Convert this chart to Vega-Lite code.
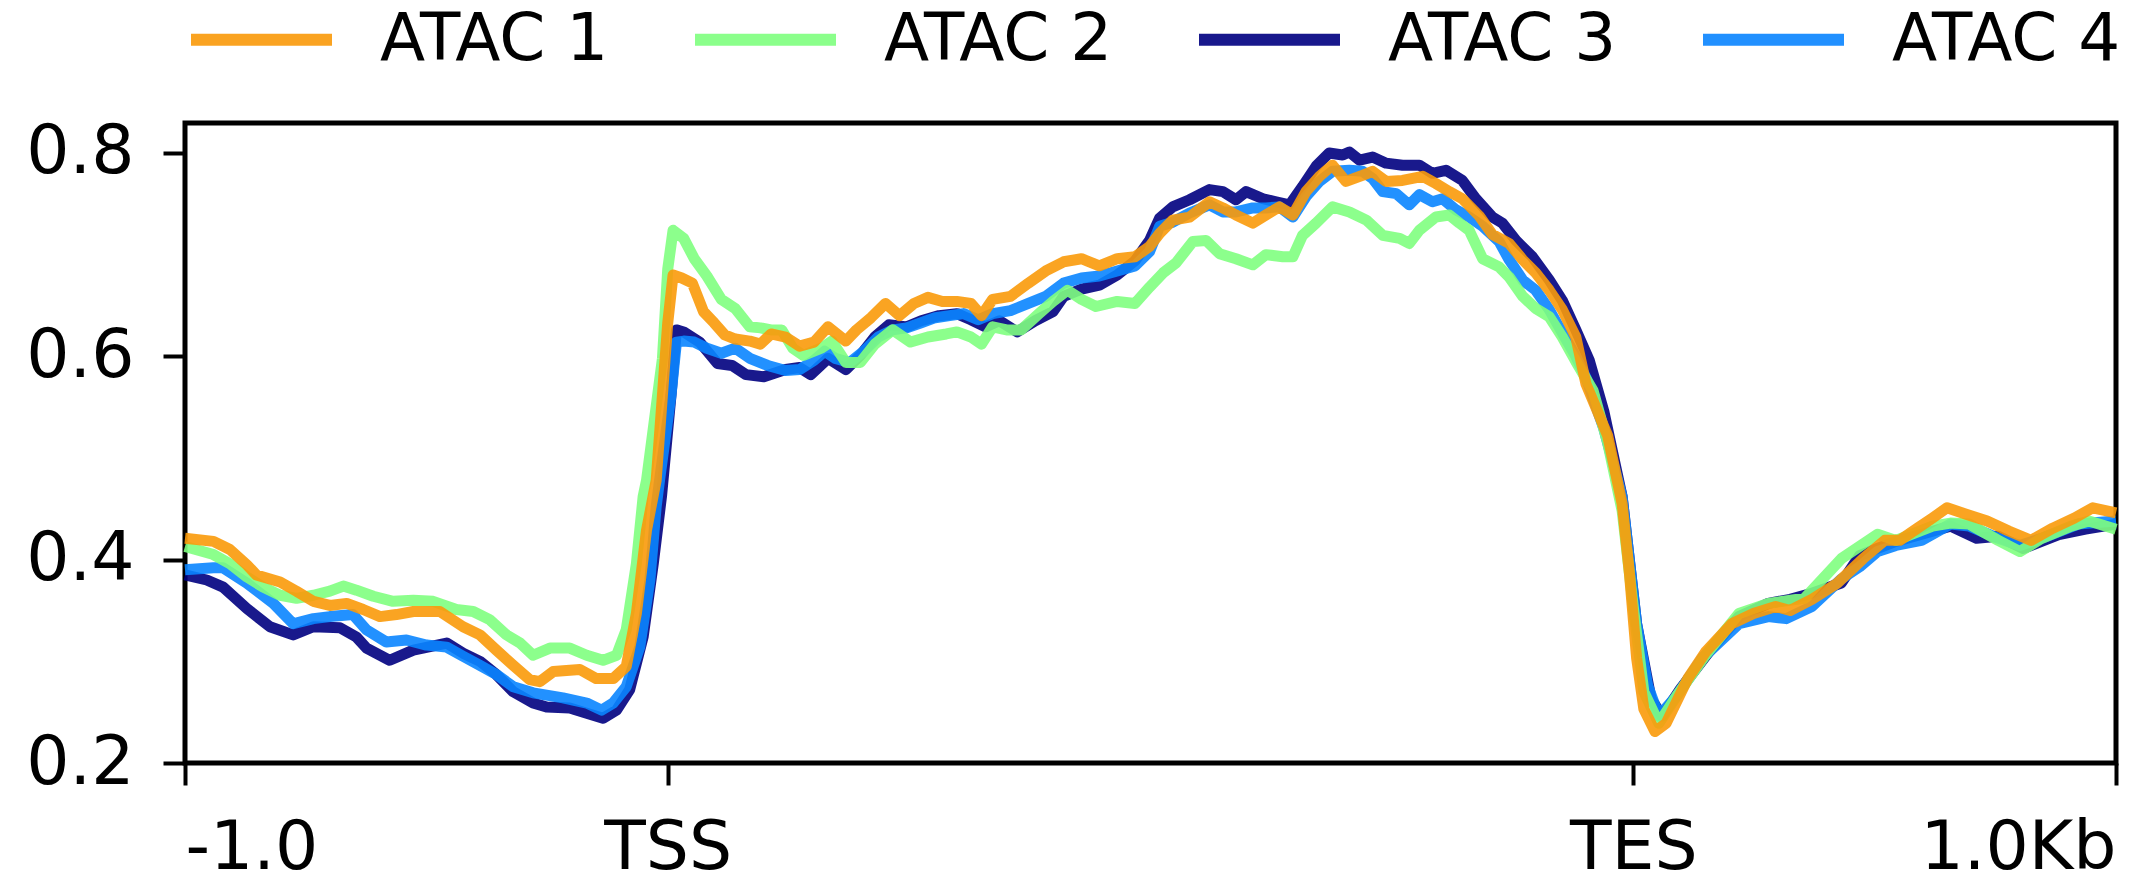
{
"$schema": "https://vega.github.io/schema/vega-lite/v6.json",
"width": 1931, "height": 640,
"autosize": {"type": "none"},
"padding": {"left": 185, "top": 123, "right": 29, "bottom": 120},
"background": "white",
"config": {"view": {"stroke": "black", "strokeWidth": 5}, "font": "DejaVu Sans"},
"data": {"values": [
{"s":"ATAC 1","x":-1.0,"y":0.421},{"s":"ATAC 1","x":-0.941,"y":0.418},{"s":"ATAC 1","x":-0.907,"y":0.410},{"s":"ATAC 1","x":-0.872,"y":0.395},{"s":"ATAC 1","x":-0.852,"y":0.385},{"s":"ATAC 1","x":-0.803,"y":0.378},{"s":"ATAC 1","x":-0.769,"y":0.369},{"s":"ATAC 1","x":-0.734,"y":0.359},{"s":"ATAC 1","x":-0.700,"y":0.355},{"s":"ATAC 1","x":-0.665,"y":0.357},{"s":"ATAC 1","x":-0.631,"y":0.351},{"s":"ATAC 1","x":-0.596,"y":0.344},{"s":"ATAC 1","x":-0.562,"y":0.346},{"s":"ATAC 1","x":-0.527,"y":0.349},{"s":"ATAC 1","x":-0.472,"y":0.349},{"s":"ATAC 1","x":-0.424,"y":0.334},{"s":"ATAC 1","x":-0.389,"y":0.326},{"s":"ATAC 1","x":-0.355,"y":0.311},{"s":"ATAC 1","x":-0.320,"y":0.296},{"s":"ATAC 1","x":-0.286,"y":0.282},{"s":"ATAC 1","x":-0.265,"y":0.280},{"s":"ATAC 1","x":-0.237,"y":0.290},{"s":"ATAC 1","x":-0.182,"y":0.292},{"s":"ATAC 1","x":-0.148,"y":0.283},{"s":"ATAC 1","x":-0.113,"y":0.283},{"s":"ATAC 1","x":-0.086,"y":0.295},{"s":"ATAC 1","x":-0.065,"y":0.347},{"s":"ATAC 1","x":-0.044,"y":0.429},{"s":"ATAC 1","x":-0.024,"y":0.478},{"s":"ATAC 1","x":0.000,"y":0.633},{"s":"ATAC 1","x":0.011,"y":0.680},{"s":"ATAC 1","x":0.029,"y":0.677},{"s":"ATAC 1","x":0.051,"y":0.672},{"s":"ATAC 1","x":0.074,"y":0.644},{"s":"ATAC 1","x":0.096,"y":0.633},{"s":"ATAC 1","x":0.118,"y":0.621},{"s":"ATAC 1","x":0.140,"y":0.617},{"s":"ATAC 1","x":0.170,"y":0.615},{"s":"ATAC 1","x":0.192,"y":0.612},{"s":"ATAC 1","x":0.214,"y":0.622},{"s":"ATAC 1","x":0.244,"y":0.619},{"s":"ATAC 1","x":0.273,"y":0.610},{"s":"ATAC 1","x":0.303,"y":0.614},{"s":"ATAC 1","x":0.332,"y":0.629},{"s":"ATAC 1","x":0.369,"y":0.615},{"s":"ATAC 1","x":0.391,"y":0.626},{"s":"ATAC 1","x":0.421,"y":0.638},{"s":"ATAC 1","x":0.451,"y":0.652},{"s":"ATAC 1","x":0.480,"y":0.640},{"s":"ATAC 1","x":0.510,"y":0.652},{"s":"ATAC 1","x":0.539,"y":0.658},{"s":"ATAC 1","x":0.569,"y":0.654},{"s":"ATAC 1","x":0.599,"y":0.654},{"s":"ATAC 1","x":0.628,"y":0.652},{"s":"ATAC 1","x":0.650,"y":0.640},{"s":"ATAC 1","x":0.673,"y":0.656},{"s":"ATAC 1","x":0.710,"y":0.659},{"s":"ATAC 1","x":0.747,"y":0.672},{"s":"ATAC 1","x":0.783,"y":0.684},{"s":"ATAC 1","x":0.820,"y":0.693},{"s":"ATAC 1","x":0.857,"y":0.696},{"s":"ATAC 1","x":0.894,"y":0.689},{"s":"ATAC 1","x":0.931,"y":0.696},{"s":"ATAC 1","x":0.968,"y":0.698},{"s":"ATAC 1","x":0.998,"y":0.708},{"s":"ATAC 1","x":1.019,"y":0.721},{"s":"ATAC 1","x":1.046,"y":0.734},{"s":"ATAC 1","x":1.081,"y":0.737},{"s":"ATAC 1","x":1.122,"y":0.752},{"s":"ATAC 1","x":1.150,"y":0.746},{"s":"ATAC 1","x":1.177,"y":0.739},{"s":"ATAC 1","x":1.212,"y":0.731},{"s":"ATAC 1","x":1.239,"y":0.739},{"s":"ATAC 1","x":1.267,"y":0.747},{"s":"ATAC 1","x":1.295,"y":0.739},{"s":"ATAC 1","x":1.322,"y":0.762},{"s":"ATAC 1","x":1.350,"y":0.777},{"s":"ATAC 1","x":1.377,"y":0.788},{"s":"ATAC 1","x":1.405,"y":0.772},{"s":"ATAC 1","x":1.439,"y":0.778},{"s":"ATAC 1","x":1.460,"y":0.782},{"s":"ATAC 1","x":1.488,"y":0.772},{"s":"ATAC 1","x":1.522,"y":0.773},{"s":"ATAC 1","x":1.564,"y":0.777},{"s":"ATAC 1","x":1.591,"y":0.770},{"s":"ATAC 1","x":1.619,"y":0.762},{"s":"ATAC 1","x":1.646,"y":0.755},{"s":"ATAC 1","x":1.681,"y":0.738},{"s":"ATAC 1","x":1.708,"y":0.720},{"s":"ATAC 1","x":1.743,"y":0.711},{"s":"ATAC 1","x":1.771,"y":0.695},{"s":"ATAC 1","x":1.798,"y":0.682},{"s":"ATAC 1","x":1.826,"y":0.665},{"s":"ATAC 1","x":1.853,"y":0.646},{"s":"ATAC 1","x":1.881,"y":0.619},{"s":"ATAC 1","x":1.902,"y":0.573},{"s":"ATAC 1","x":1.947,"y":0.522},{"s":"ATAC 1","x":1.977,"y":0.455},{"s":"ATAC 1","x":1.992,"y":0.387},{"s":"ATAC 1","x":2.007,"y":0.303},{"s":"ATAC 1","x":2.022,"y":0.253},{"s":"ATAC 1","x":2.045,"y":0.231},{"s":"ATAC 1","x":2.068,"y":0.239},{"s":"ATAC 1","x":2.113,"y":0.283},{"s":"ATAC 1","x":2.151,"y":0.310},{"s":"ATAC 1","x":2.204,"y":0.337},{"s":"ATAC 1","x":2.249,"y":0.347},{"s":"ATAC 1","x":2.295,"y":0.354},{"s":"ATAC 1","x":2.325,"y":0.350},{"s":"ATAC 1","x":2.370,"y":0.361},{"s":"ATAC 1","x":2.423,"y":0.377},{"s":"ATAC 1","x":2.476,"y":0.401},{"s":"ATAC 1","x":2.521,"y":0.419},{"s":"ATAC 1","x":2.552,"y":0.419},{"s":"ATAC 1","x":2.589,"y":0.431},{"s":"ATAC 1","x":2.620,"y":0.441},{"s":"ATAC 1","x":2.650,"y":0.451},{"s":"ATAC 1","x":2.688,"y":0.445},{"s":"ATAC 1","x":2.733,"y":0.438},{"s":"ATAC 1","x":2.779,"y":0.428},{"s":"ATAC 1","x":2.824,"y":0.419},{"s":"ATAC 1","x":2.869,"y":0.431},{"s":"ATAC 1","x":2.914,"y":0.441},{"s":"ATAC 1","x":2.952,"y":0.451},{"s":"ATAC 1","x":3.0,"y":0.446},
{"s":"ATAC 2","x":-1.0,"y":0.413},{"s":"ATAC 2","x":-0.941,"y":0.405},{"s":"ATAC 2","x":-0.907,"y":0.396},{"s":"ATAC 2","x":-0.872,"y":0.383},{"s":"ATAC 2","x":-0.838,"y":0.373},{"s":"ATAC 2","x":-0.803,"y":0.365},{"s":"ATAC 2","x":-0.769,"y":0.362},{"s":"ATAC 2","x":-0.734,"y":0.365},{"s":"ATAC 2","x":-0.700,"y":0.369},{"s":"ATAC 2","x":-0.672,"y":0.374},{"s":"ATAC 2","x":-0.645,"y":0.370},{"s":"ATAC 2","x":-0.610,"y":0.364},{"s":"ATAC 2","x":-0.569,"y":0.359},{"s":"ATAC 2","x":-0.527,"y":0.360},{"s":"ATAC 2","x":-0.486,"y":0.359},{"s":"ATAC 2","x":-0.438,"y":0.351},{"s":"ATAC 2","x":-0.403,"y":0.349},{"s":"ATAC 2","x":-0.369,"y":0.341},{"s":"ATAC 2","x":-0.334,"y":0.326},{"s":"ATAC 2","x":-0.306,"y":0.318},{"s":"ATAC 2","x":-0.279,"y":0.306},{"s":"ATAC 2","x":-0.244,"y":0.313},{"s":"ATAC 2","x":-0.203,"y":0.313},{"s":"ATAC 2","x":-0.168,"y":0.306},{"s":"ATAC 2","x":-0.134,"y":0.301},{"s":"ATAC 2","x":-0.106,"y":0.306},{"s":"ATAC 2","x":-0.086,"y":0.331},{"s":"ATAC 2","x":-0.065,"y":0.396},{"s":"ATAC 2","x":-0.051,"y":0.462},{"s":"ATAC 2","x":-0.044,"y":0.478},{"s":"ATAC 2","x":-0.011,"y":0.598},{"s":"ATAC 2","x":0.000,"y":0.686},{"s":"ATAC 2","x":0.011,"y":0.724},{"s":"ATAC 2","x":0.033,"y":0.716},{"s":"ATAC 2","x":0.055,"y":0.696},{"s":"ATAC 2","x":0.081,"y":0.679},{"s":"ATAC 2","x":0.111,"y":0.656},{"s":"ATAC 2","x":0.140,"y":0.647},{"s":"ATAC 2","x":0.170,"y":0.629},{"s":"ATAC 2","x":0.192,"y":0.628},{"s":"ATAC 2","x":0.214,"y":0.626},{"s":"ATAC 2","x":0.236,"y":0.626},{"s":"ATAC 2","x":0.259,"y":0.608},{"s":"ATAC 2","x":0.281,"y":0.601},{"s":"ATAC 2","x":0.318,"y":0.608},{"s":"ATAC 2","x":0.340,"y":0.615},{"s":"ATAC 2","x":0.369,"y":0.594},{"s":"ATAC 2","x":0.399,"y":0.594},{"s":"ATAC 2","x":0.429,"y":0.612},{"s":"ATAC 2","x":0.466,"y":0.626},{"s":"ATAC 2","x":0.503,"y":0.614},{"s":"ATAC 2","x":0.539,"y":0.619},{"s":"ATAC 2","x":0.577,"y":0.622},{"s":"ATAC 2","x":0.599,"y":0.624},{"s":"ATAC 2","x":0.628,"y":0.619},{"s":"ATAC 2","x":0.650,"y":0.612},{"s":"ATAC 2","x":0.673,"y":0.629},{"s":"ATAC 2","x":0.702,"y":0.626},{"s":"ATAC 2","x":0.732,"y":0.626},{"s":"ATAC 2","x":0.769,"y":0.642},{"s":"ATAC 2","x":0.798,"y":0.654},{"s":"ATAC 2","x":0.828,"y":0.665},{"s":"ATAC 2","x":0.857,"y":0.656},{"s":"ATAC 2","x":0.887,"y":0.649},{"s":"ATAC 2","x":0.931,"y":0.654},{"s":"ATAC 2","x":0.968,"y":0.652},{"s":"ATAC 2","x":0.998,"y":0.668},{"s":"ATAC 2","x":1.026,"y":0.682},{"s":"ATAC 2","x":1.053,"y":0.692},{"s":"ATAC 2","x":1.088,"y":0.713},{"s":"ATAC 2","x":1.115,"y":0.714},{"s":"ATAC 2","x":1.143,"y":0.701},{"s":"ATAC 2","x":1.177,"y":0.696},{"s":"ATAC 2","x":1.212,"y":0.690},{"s":"ATAC 2","x":1.239,"y":0.700},{"s":"ATAC 2","x":1.274,"y":0.698},{"s":"ATAC 2","x":1.295,"y":0.698},{"s":"ATAC 2","x":1.315,"y":0.719},{"s":"ATAC 2","x":1.343,"y":0.731},{"s":"ATAC 2","x":1.377,"y":0.747},{"s":"ATAC 2","x":1.412,"y":0.742},{"s":"ATAC 2","x":1.447,"y":0.734},{"s":"ATAC 2","x":1.481,"y":0.719},{"s":"ATAC 2","x":1.516,"y":0.716},{"s":"ATAC 2","x":1.536,"y":0.711},{"s":"ATAC 2","x":1.557,"y":0.724},{"s":"ATAC 2","x":1.591,"y":0.737},{"s":"ATAC 2","x":1.619,"y":0.739},{"s":"ATAC 2","x":1.640,"y":0.731},{"s":"ATAC 2","x":1.660,"y":0.724},{"s":"ATAC 2","x":1.688,"y":0.696},{"s":"ATAC 2","x":1.722,"y":0.688},{"s":"ATAC 2","x":1.743,"y":0.678},{"s":"ATAC 2","x":1.771,"y":0.659},{"s":"ATAC 2","x":1.798,"y":0.647},{"s":"ATAC 2","x":1.826,"y":0.639},{"s":"ATAC 2","x":1.853,"y":0.619},{"s":"ATAC 2","x":1.881,"y":0.595},{"s":"ATAC 2","x":1.917,"y":0.566},{"s":"ATAC 2","x":1.947,"y":0.515},{"s":"ATAC 2","x":1.977,"y":0.448},{"s":"ATAC 2","x":2.000,"y":0.354},{"s":"ATAC 2","x":2.022,"y":0.270},{"s":"ATAC 2","x":2.053,"y":0.239},{"s":"ATAC 2","x":2.090,"y":0.266},{"s":"ATAC 2","x":2.151,"y":0.307},{"s":"ATAC 2","x":2.219,"y":0.347},{"s":"ATAC 2","x":2.280,"y":0.357},{"s":"ATAC 2","x":2.355,"y":0.362},{"s":"ATAC 2","x":2.431,"y":0.401},{"s":"ATAC 2","x":2.506,"y":0.425},{"s":"ATAC 2","x":2.544,"y":0.419},{"s":"ATAC 2","x":2.620,"y":0.433},{"s":"ATAC 2","x":2.657,"y":0.436},{"s":"ATAC 2","x":2.696,"y":0.435},{"s":"ATAC 2","x":2.756,"y":0.419},{"s":"ATAC 2","x":2.801,"y":0.408},{"s":"ATAC 2","x":2.846,"y":0.421},{"s":"ATAC 2","x":2.907,"y":0.433},{"s":"ATAC 2","x":2.944,"y":0.438},{"s":"ATAC 2","x":3.0,"y":0.430},
{"s":"ATAC 3","x":-1.0,"y":0.385},{"s":"ATAC 3","x":-0.955,"y":0.380},{"s":"ATAC 3","x":-0.921,"y":0.373},{"s":"ATAC 3","x":-0.872,"y":0.352},{"s":"ATAC 3","x":-0.824,"y":0.334},{"s":"ATAC 3","x":-0.776,"y":0.326},{"s":"ATAC 3","x":-0.734,"y":0.334},{"s":"ATAC 3","x":-0.679,"y":0.333},{"s":"ATAC 3","x":-0.645,"y":0.324},{"s":"ATAC 3","x":-0.624,"y":0.313},{"s":"ATAC 3","x":-0.576,"y":0.301},{"s":"ATAC 3","x":-0.527,"y":0.311},{"s":"ATAC 3","x":-0.458,"y":0.318},{"s":"ATAC 3","x":-0.424,"y":0.308},{"s":"ATAC 3","x":-0.389,"y":0.300},{"s":"ATAC 3","x":-0.355,"y":0.287},{"s":"ATAC 3","x":-0.320,"y":0.270},{"s":"ATAC 3","x":-0.279,"y":0.259},{"s":"ATAC 3","x":-0.251,"y":0.255},{"s":"ATAC 3","x":-0.203,"y":0.254},{"s":"ATAC 3","x":-0.168,"y":0.249},{"s":"ATAC 3","x":-0.134,"y":0.244},{"s":"ATAC 3","x":-0.106,"y":0.252},{"s":"ATAC 3","x":-0.079,"y":0.272},{"s":"ATAC 3","x":-0.051,"y":0.324},{"s":"ATAC 3","x":-0.030,"y":0.396},{"s":"ATAC 3","x":-0.013,"y":0.462},{"s":"ATAC 3","x":0.007,"y":0.563},{"s":"ATAC 3","x":0.018,"y":0.626},{"s":"ATAC 3","x":0.033,"y":0.624},{"s":"ATAC 3","x":0.066,"y":0.614},{"s":"ATAC 3","x":0.103,"y":0.593},{"s":"ATAC 3","x":0.133,"y":0.591},{"s":"ATAC 3","x":0.162,"y":0.582},{"s":"ATAC 3","x":0.199,"y":0.580},{"s":"ATAC 3","x":0.244,"y":0.587},{"s":"ATAC 3","x":0.273,"y":0.589},{"s":"ATAC 3","x":0.296,"y":0.582},{"s":"ATAC 3","x":0.332,"y":0.598},{"s":"ATAC 3","x":0.369,"y":0.587},{"s":"ATAC 3","x":0.399,"y":0.601},{"s":"ATAC 3","x":0.429,"y":0.619},{"s":"ATAC 3","x":0.458,"y":0.631},{"s":"ATAC 3","x":0.495,"y":0.629},{"s":"ATAC 3","x":0.525,"y":0.635},{"s":"ATAC 3","x":0.562,"y":0.640},{"s":"ATAC 3","x":0.599,"y":0.642},{"s":"ATAC 3","x":0.628,"y":0.636},{"s":"ATAC 3","x":0.658,"y":0.629},{"s":"ATAC 3","x":0.687,"y":0.635},{"s":"ATAC 3","x":0.724,"y":0.624},{"s":"ATAC 3","x":0.761,"y":0.635},{"s":"ATAC 3","x":0.798,"y":0.644},{"s":"ATAC 3","x":0.820,"y":0.659},{"s":"ATAC 3","x":0.857,"y":0.666},{"s":"ATAC 3","x":0.894,"y":0.670},{"s":"ATAC 3","x":0.931,"y":0.680},{"s":"ATAC 3","x":0.968,"y":0.694},{"s":"ATAC 3","x":0.998,"y":0.714},{"s":"ATAC 3","x":1.019,"y":0.736},{"s":"ATAC 3","x":1.046,"y":0.747},{"s":"ATAC 3","x":1.081,"y":0.754},{"s":"ATAC 3","x":1.122,"y":0.764},{"s":"ATAC 3","x":1.150,"y":0.762},{"s":"ATAC 3","x":1.177,"y":0.754},{"s":"ATAC 3","x":1.198,"y":0.762},{"s":"ATAC 3","x":1.233,"y":0.755},{"s":"ATAC 3","x":1.260,"y":0.752},{"s":"ATAC 3","x":1.288,"y":0.749},{"s":"ATAC 3","x":1.315,"y":0.767},{"s":"ATAC 3","x":1.343,"y":0.787},{"s":"ATAC 3","x":1.370,"y":0.800},{"s":"ATAC 3","x":1.398,"y":0.798},{"s":"ATAC 3","x":1.412,"y":0.801},{"s":"ATAC 3","x":1.433,"y":0.793},{"s":"ATAC 3","x":1.460,"y":0.796},{"s":"ATAC 3","x":1.488,"y":0.790},{"s":"ATAC 3","x":1.522,"y":0.788},{"s":"ATAC 3","x":1.557,"y":0.788},{"s":"ATAC 3","x":1.584,"y":0.780},{"s":"ATAC 3","x":1.612,"y":0.783},{"s":"ATAC 3","x":1.646,"y":0.773},{"s":"ATAC 3","x":1.674,"y":0.755},{"s":"ATAC 3","x":1.708,"y":0.737},{"s":"ATAC 3","x":1.729,"y":0.731},{"s":"ATAC 3","x":1.757,"y":0.714},{"s":"ATAC 3","x":1.791,"y":0.698},{"s":"ATAC 3","x":1.826,"y":0.675},{"s":"ATAC 3","x":1.853,"y":0.655},{"s":"ATAC 3","x":1.881,"y":0.626},{"s":"ATAC 3","x":1.909,"y":0.596},{"s":"ATAC 3","x":1.939,"y":0.546},{"s":"ATAC 3","x":1.977,"y":0.462},{"s":"ATAC 3","x":2.007,"y":0.337},{"s":"ATAC 3","x":2.037,"y":0.263},{"s":"ATAC 3","x":2.060,"y":0.246},{"s":"ATAC 3","x":2.098,"y":0.273},{"s":"ATAC 3","x":2.158,"y":0.310},{"s":"ATAC 3","x":2.219,"y":0.344},{"s":"ATAC 3","x":2.280,"y":0.357},{"s":"ATAC 3","x":2.325,"y":0.361},{"s":"ATAC 3","x":2.370,"y":0.367},{"s":"ATAC 3","x":2.431,"y":0.377},{"s":"ATAC 3","x":2.469,"y":0.404},{"s":"ATAC 3","x":2.506,"y":0.411},{"s":"ATAC 3","x":2.544,"y":0.418},{"s":"ATAC 3","x":2.620,"y":0.428},{"s":"ATAC 3","x":2.657,"y":0.433},{"s":"ATAC 3","x":2.711,"y":0.421},{"s":"ATAC 3","x":2.756,"y":0.423},{"s":"ATAC 3","x":2.808,"y":0.411},{"s":"ATAC 3","x":2.884,"y":0.425},{"s":"ATAC 3","x":2.937,"y":0.430},{"s":"ATAC 3","x":3.0,"y":0.435},
{"s":"ATAC 4","x":-1.0,"y":0.390},{"s":"ATAC 4","x":-0.941,"y":0.392},{"s":"ATAC 4","x":-0.921,"y":0.392},{"s":"ATAC 4","x":-0.872,"y":0.377},{"s":"ATAC 4","x":-0.817,"y":0.357},{"s":"ATAC 4","x":-0.776,"y":0.337},{"s":"ATAC 4","x":-0.734,"y":0.342},{"s":"ATAC 4","x":-0.700,"y":0.344},{"s":"ATAC 4","x":-0.652,"y":0.346},{"s":"ATAC 4","x":-0.624,"y":0.331},{"s":"ATAC 4","x":-0.583,"y":0.319},{"s":"ATAC 4","x":-0.541,"y":0.321},{"s":"ATAC 4","x":-0.500,"y":0.316},{"s":"ATAC 4","x":-0.458,"y":0.314},{"s":"ATAC 4","x":-0.424,"y":0.305},{"s":"ATAC 4","x":-0.389,"y":0.296},{"s":"ATAC 4","x":-0.355,"y":0.287},{"s":"ATAC 4","x":-0.320,"y":0.275},{"s":"ATAC 4","x":-0.279,"y":0.269},{"s":"ATAC 4","x":-0.217,"y":0.264},{"s":"ATAC 4","x":-0.168,"y":0.259},{"s":"ATAC 4","x":-0.137,"y":0.252},{"s":"ATAC 4","x":-0.113,"y":0.259},{"s":"ATAC 4","x":-0.086,"y":0.275},{"s":"ATAC 4","x":-0.058,"y":0.314},{"s":"ATAC 4","x":-0.037,"y":0.380},{"s":"ATAC 4","x":-0.024,"y":0.452},{"s":"ATAC 4","x":-0.017,"y":0.478},{"s":"ATAC 4","x":0.007,"y":0.563},{"s":"ATAC 4","x":0.018,"y":0.614},{"s":"ATAC 4","x":0.033,"y":0.615},{"s":"ATAC 4","x":0.055,"y":0.614},{"s":"ATAC 4","x":0.081,"y":0.608},{"s":"ATAC 4","x":0.111,"y":0.603},{"s":"ATAC 4","x":0.140,"y":0.608},{"s":"ATAC 4","x":0.170,"y":0.598},{"s":"ATAC 4","x":0.207,"y":0.591},{"s":"ATAC 4","x":0.244,"y":0.586},{"s":"ATAC 4","x":0.273,"y":0.587},{"s":"ATAC 4","x":0.303,"y":0.596},{"s":"ATAC 4","x":0.325,"y":0.605},{"s":"ATAC 4","x":0.347,"y":0.598},{"s":"ATAC 4","x":0.377,"y":0.594},{"s":"ATAC 4","x":0.406,"y":0.605},{"s":"ATAC 4","x":0.436,"y":0.619},{"s":"ATAC 4","x":0.466,"y":0.626},{"s":"ATAC 4","x":0.495,"y":0.628},{"s":"ATAC 4","x":0.525,"y":0.633},{"s":"ATAC 4","x":0.554,"y":0.638},{"s":"ATAC 4","x":0.584,"y":0.640},{"s":"ATAC 4","x":0.613,"y":0.642},{"s":"ATAC 4","x":0.643,"y":0.636},{"s":"ATAC 4","x":0.673,"y":0.642},{"s":"ATAC 4","x":0.710,"y":0.645},{"s":"ATAC 4","x":0.747,"y":0.652},{"s":"ATAC 4","x":0.783,"y":0.659},{"s":"ATAC 4","x":0.820,"y":0.672},{"s":"ATAC 4","x":0.857,"y":0.677},{"s":"ATAC 4","x":0.894,"y":0.679},{"s":"ATAC 4","x":0.931,"y":0.684},{"s":"ATAC 4","x":0.968,"y":0.689},{"s":"ATAC 4","x":0.998,"y":0.703},{"s":"ATAC 4","x":1.019,"y":0.728},{"s":"ATAC 4","x":1.046,"y":0.732},{"s":"ATAC 4","x":1.081,"y":0.741},{"s":"ATAC 4","x":1.122,"y":0.749},{"s":"ATAC 4","x":1.150,"y":0.742},{"s":"ATAC 4","x":1.177,"y":0.742},{"s":"ATAC 4","x":1.212,"y":0.746},{"s":"ATAC 4","x":1.239,"y":0.746},{"s":"ATAC 4","x":1.267,"y":0.747},{"s":"ATAC 4","x":1.295,"y":0.737},{"s":"ATAC 4","x":1.322,"y":0.757},{"s":"ATAC 4","x":1.350,"y":0.772},{"s":"ATAC 4","x":1.377,"y":0.782},{"s":"ATAC 4","x":1.412,"y":0.783},{"s":"ATAC 4","x":1.439,"y":0.782},{"s":"ATAC 4","x":1.460,"y":0.775},{"s":"ATAC 4","x":1.481,"y":0.762},{"s":"ATAC 4","x":1.509,"y":0.760},{"s":"ATAC 4","x":1.536,"y":0.749},{"s":"ATAC 4","x":1.557,"y":0.759},{"s":"ATAC 4","x":1.584,"y":0.752},{"s":"ATAC 4","x":1.605,"y":0.755},{"s":"ATAC 4","x":1.633,"y":0.744},{"s":"ATAC 4","x":1.660,"y":0.737},{"s":"ATAC 4","x":1.688,"y":0.728},{"s":"ATAC 4","x":1.722,"y":0.713},{"s":"ATAC 4","x":1.743,"y":0.695},{"s":"ATAC 4","x":1.771,"y":0.675},{"s":"ATAC 4","x":1.798,"y":0.665},{"s":"ATAC 4","x":1.826,"y":0.646},{"s":"ATAC 4","x":1.853,"y":0.623},{"s":"ATAC 4","x":1.881,"y":0.600},{"s":"ATAC 4","x":1.902,"y":0.579},{"s":"ATAC 4","x":1.939,"y":0.529},{"s":"ATAC 4","x":1.977,"y":0.462},{"s":"ATAC 4","x":2.007,"y":0.337},{"s":"ATAC 4","x":2.030,"y":0.276},{"s":"ATAC 4","x":2.053,"y":0.246},{"s":"ATAC 4","x":2.090,"y":0.266},{"s":"ATAC 4","x":2.143,"y":0.303},{"s":"ATAC 4","x":2.219,"y":0.337},{"s":"ATAC 4","x":2.280,"y":0.344},{"s":"ATAC 4","x":2.317,"y":0.342},{"s":"ATAC 4","x":2.370,"y":0.354},{"s":"ATAC 4","x":2.431,"y":0.381},{"s":"ATAC 4","x":2.469,"y":0.393},{"s":"ATAC 4","x":2.506,"y":0.408},{"s":"ATAC 4","x":2.544,"y":0.414},{"s":"ATAC 4","x":2.597,"y":0.419},{"s":"ATAC 4","x":2.657,"y":0.435},{"s":"ATAC 4","x":2.696,"y":0.433},{"s":"ATAC 4","x":2.756,"y":0.421},{"s":"ATAC 4","x":2.801,"y":0.414},{"s":"ATAC 4","x":2.846,"y":0.421},{"s":"ATAC 4","x":2.922,"y":0.435},{"s":"ATAC 4","x":3.0,"y":0.438}
]},
"encoding": {
  "x": {"field": "x", "type": "quantitative",
    "scale": {"domain": [-1, 3], "nice": false, "zero": false},
    "axis": {"values": [-1, 0, 2, 3], "title": null, "grid": false, "domain": false,
      "labelExpr": "datum.value == -1 ? '-1.0' : datum.value == 0 ? 'TSS' : datum.value == 2 ? 'TES' : '1.0Kb'",
      "labelFlush": true, "labelFlushOffset": 0, "labelOverlap": false, "labelBound": false, "labelLimit": 0,
      "labelFont": "DejaVu Sans", "labelFontSize": 68, "labelColor": "black",
      "labelPadding": 29, "tickSize": 22, "tickWidth": 4, "tickColor": "black"}},
  "y": {"field": "y", "type": "quantitative",
    "scale": {"domain": [0.2, 0.8295], "nice": false, "zero": false},
    "axis": {"values": [0.2, 0.4, 0.6, 0.8], "format": ".1f", "title": null, "grid": false, "domain": false,
      "labelOverlap": false, "labelBound": false, "labelFlush": false, "labelLimit": 0,
      "labelFont": "DejaVu Sans", "labelFontSize": 68, "labelColor": "black",
      "labelPadding": 29, "tickSize": 22, "tickWidth": 4, "tickColor": "black"}},
  "color": {"field": "s", "type": "nominal",
    "scale": {"domain": ["ATAC 1", "ATAC 2", "ATAC 3", "ATAC 4"], "range": ["#FA9A0A", "#7FFF7F", "#000080", "#0A85FF"]},
    "legend": {"orient": "none", "legendX": 0, "legendY": -160, "direction": "horizontal", "columns": 4,
      "title": null, "padding": 0, "symbolType": "stroke", "symbolSize": 19881, "symbolStrokeWidth": 12,
      "symbolOpacity": 0.9, "labelFont": "DejaVu Sans", "labelFontSize": 66, "labelColor": "black",
      "labelOffset": 42, "columnPadding": 62, "labelLimit": 0}}
},
"layer": [
  {"transform": [{"filter": "datum.s == 'ATAC 3'"}], "mark": {"type": "line", "strokeWidth": 11, "opacity": 0.9, "strokeJoin": "round"}},
  {"transform": [{"filter": "datum.s == 'ATAC 4'"}], "mark": {"type": "line", "strokeWidth": 11, "opacity": 0.9, "strokeJoin": "round"}},
  {"transform": [{"filter": "datum.s == 'ATAC 2'"}], "mark": {"type": "line", "strokeWidth": 11, "opacity": 0.9, "strokeJoin": "round"}},
  {"transform": [{"filter": "datum.s == 'ATAC 1'"}], "mark": {"type": "line", "strokeWidth": 11, "opacity": 0.9, "strokeJoin": "round"}}
]
}
